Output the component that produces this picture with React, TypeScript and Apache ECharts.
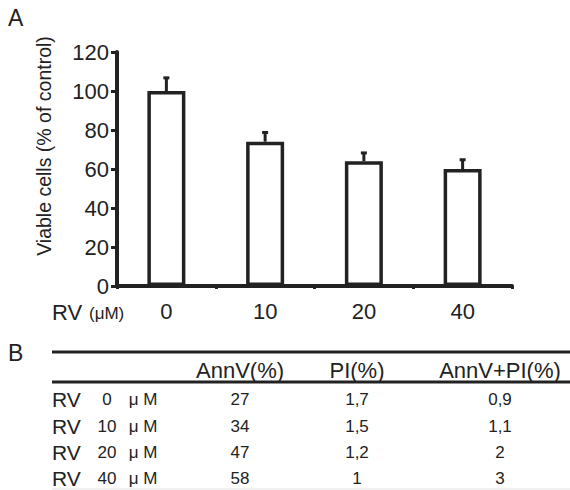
import React, { useEffect, useRef } from "react";
import * as echarts from "echarts";

const doses = ["0", "10", "20", "40"];
const viability = [100, 74, 64, 60];
const viabilityErr = [7, 5, 4.5, 5];
const yTicks = { min: 0, max: 120, interval: 20 };

const tableHeaders = ["AnnV(%)", "PI(%)", "AnnV+PI(%)"];
const annV = ["27", "34", "47", "58"];
const pi = ["1,7", "1,5", "1,2", "1"];
const annVPi = ["0,9", "1,1", "2", "3"];

const FONT = "'Liberation Sans', Arial, Helvetica, sans-serif";
const INK = "#222";

export default function App() {
  const ref = useRef<HTMLDivElement>(null);
  useEffect(() => {
    if (!ref.current) return;
    const chart = echarts.init(ref.current, null, { renderer: "svg" });

    const colX = [240, 357, 500];
    const rowY = [399, 426, 452, 478];
    const graphics: any[] = [
      { type: "text", x: 8, y: 18, style: { text: "A", font: `23px ${FONT}`, fill: INK, verticalAlign: "middle" } },
      {
        type: "text",
        x: 44,
        y: 146,
        rotation: Math.PI / 2,
        style: { text: "Viable cells (% of control)", font: `19.5px ${FONT}`, fill: INK, align: "center", verticalAlign: "middle" },
      },
      { type: "text", x: 52, y: 312, style: { text: "RV", font: `22px ${FONT}`, fill: INK, verticalAlign: "middle" } },
      { type: "text", x: 89, y: 313, style: { text: "(μM)", font: `17px ${FONT}`, fill: INK, verticalAlign: "middle" } },
      { type: "text", x: 8, y: 353, style: { text: "B", font: `23px ${FONT}`, fill: INK, verticalAlign: "middle" } },
      { type: "line", shape: { x1: 52, y1: 352, x2: 570, y2: 352 }, style: { stroke: INK, lineWidth: 3 } },
      { type: "line", shape: { x1: 52, y1: 382, x2: 570, y2: 382 }, style: { stroke: INK, lineWidth: 3 } },
      { type: "line", shape: { x1: 52, y1: 489, x2: 570, y2: 489 }, style: { stroke: "#e4e4e4", lineWidth: 1 } },
    ];
    tableHeaders.forEach((h, i) => {
      graphics.push({ type: "text", x: colX[i], y: 370, style: { text: h, font: `22px ${FONT}`, fill: INK, align: "center", verticalAlign: "middle" } });
    });
    doses.forEach((d, r) => {
      const y = rowY[r];
      graphics.push({ type: "text", x: 52, y, style: { text: "RV", font: `21px ${FONT}`, fill: INK, verticalAlign: "middle" } });
      graphics.push({ type: "text", x: 107, y, style: { text: d, font: `17px ${FONT}`, fill: INK, align: "center", verticalAlign: "middle" } });
      graphics.push({ type: "text", x: 143, y, style: { text: "μ M", font: `17px ${FONT}`, fill: INK, align: "center", verticalAlign: "middle" } });
      [annV, pi, annVPi].forEach((col, c) => {
        graphics.push({ type: "text", x: colX[c], y, style: { text: col[r], font: `17px ${FONT}`, fill: INK, align: "center", verticalAlign: "middle" } });
      });
    });

    chart.setOption({
      animation: false,
      backgroundColor: "#fff",
      textStyle: { fontFamily: FONT },
      grid: { left: 117, right: 58, top: 52, height: 234 },
      xAxis: {
        type: "category",
        data: doses,
        axisLine: { lineStyle: { color: INK, width: 4 } },
        axisTick: { show: true, length: 3, lineStyle: { color: INK, width: 3 } },
        axisLabel: { fontSize: 22, color: INK, margin: 14, fontFamily: FONT },
      },
      yAxis: {
        type: "value",
        min: yTicks.min,
        max: yTicks.max,
        interval: yTicks.interval,
        axisLine: { show: true, lineStyle: { color: INK, width: 4 } },
        axisTick: { show: true, length: 6, lineStyle: { color: INK, width: 3 } },
        axisLabel: { fontSize: 22, color: INK, margin: 8, fontFamily: FONT },
        splitLine: { show: false },
      },
      series: [
        {
          type: "bar",
          data: viability,
          barWidth: 38,
          itemStyle: { color: "#fff", borderColor: INK, borderWidth: 3.5 },
          z: 2,
        },
        {
          type: "custom",
          z: 3,
          data: viability.map((v, i) => [i, v, viabilityErr[i]]),
          renderItem: (params: any, api: any) => {
            const idx = api.value(0);
            const v = api.value(1);
            const e = api.value(2);
            const p0 = api.coord([idx, v]);
            const p1 = api.coord([idx, v + e]);
            return {
              type: "group",
              children: [
                { type: "line", shape: { x1: p0[0], y1: p0[1], x2: p1[0], y2: p1[1] }, style: { stroke: INK, lineWidth: 3 } },
                { type: "rect", shape: { x: p1[0] - 3, y: p1[1] - 1, width: 6, height: 3 }, style: { fill: INK } },
              ],
            };
          },
        },
      ],
      graphic: graphics,
    });
    return () => chart.dispose();
  }, []);
  return <div ref={ref} style={{ position: "fixed", left: 0, top: 0, width: 570, height: 490 }} />;
}
